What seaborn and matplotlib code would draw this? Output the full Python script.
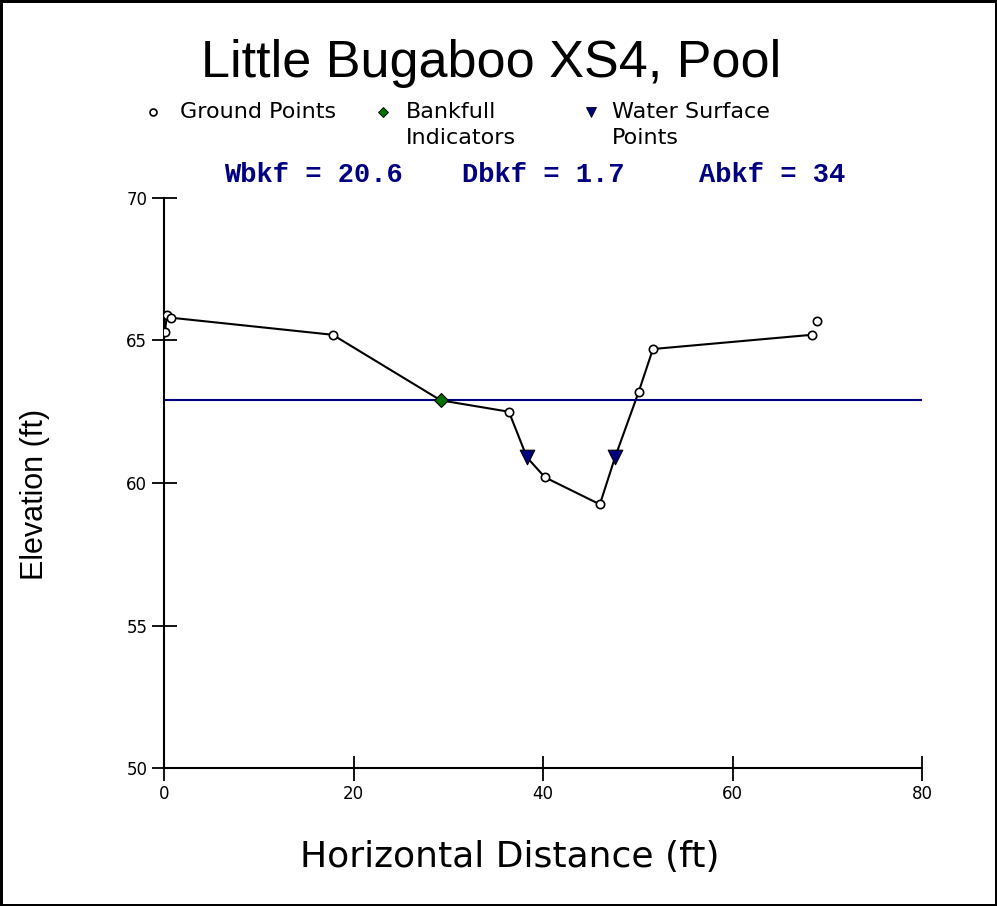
import matplotlib
matplotlib.use("Agg")
import matplotlib.pyplot as plt
from matplotlib.lines import Line2D
import seaborn as sns
import pandas as pd

# cross-section survey
ground_x = [0.1, 0.3, 0.7, 17.8, 36.4, 40.2, 46.0, 50.1, 51.6, 68.4, 68.9]
ground_y = [65.3, 65.9, 65.8, 65.2, 62.5, 60.2, 59.25, 63.2, 64.7, 65.2, 65.7]
bankfull_x = [29.2]
bankfull_y = [62.9]
ws_x = [38.3, 47.6]
ws_y = [60.9, 60.9]
bankfull_elev = 62.9

# profile line order (last ground point is not joined)
profile_x = [0.1, 0.3, 0.7, 17.8, 29.2, 36.4, 38.3, 40.2, 46.0, 47.6, 50.1, 51.6, 68.4]
profile_y = [65.3, 65.9, 65.8, 65.2, 62.9, 62.5, 60.9, 60.2, 59.25, 60.9, 63.2, 64.7, 65.2]

legend_labels = ["Ground Points", "Bankfull\nIndicators", "Water Surface\nPoints"]
stats_text = ["Wbkf = 20.6", "Dbkf = 1.7", "Abkf = 34"]

NAVY = "#000080"
GREEN = "#007000"

sns.set_style("white")
plt.rcParams['font.family'] = ['Liberation Sans', 'DejaVu Sans']
plt.rcParams['text.color'] = 'black'

fig = plt.figure(figsize=(9.97, 9.06), dpi=100)
fig.patch.set_edgecolor("black")
fig.patch.set_linewidth(2.5)
ax = fig.add_axes([0.1645, 0.1523, 0.7603, 0.6292])

prof = pd.DataFrame({"x": profile_x, "y": profile_y})
sns.lineplot(data=prof, x="x", y="y", ax=ax, color="black", lw=1.5, sort=False,
             estimator=None)
ax.axhline(bankfull_elev, color=NAVY, lw=1.5)

sns.scatterplot(x=ground_x, y=ground_y, ax=ax, marker="o", s=36, facecolor="white",
                edgecolor="black", linewidth=1.2, zorder=3)
sns.scatterplot(x=bankfull_x, y=bankfull_y, ax=ax, marker="D", s=50, color=GREEN,
                edgecolor="black", linewidth=0.8, zorder=3)
sns.scatterplot(x=ws_x, y=ws_y, ax=ax, marker="v", s=110, color=NAVY,
                edgecolor="black", linewidth=0.8, zorder=3)

ax.set_xlim(0, 80)
ax.set_ylim(50, 70)
ax.set_xticks([0, 20, 40, 60, 80])
ax.set_yticks([50, 55, 60, 65, 70])
sns.despine(ax=ax)
for s in ["left", "bottom"]:
    ax.spines[s].set_linewidth(1.5)
    ax.spines[s].set_color("black")
ax.tick_params(direction="inout", length=18, width=1.3, labelsize=12, pad=3,
               color="black", labelcolor="black", bottom=True, left=True)
for lab in ax.get_xticklabels() + ax.get_yticklabels():
    lab.set_family("DejaVu Sans")

ax.set_xlabel("Horizontal Distance (ft)", fontsize=26, va="baseline", color="black",
              family="DejaVu Sans")
ax.xaxis.set_label_coords(0.4565, -0.1737)
ax.set_ylabel("Elevation (ft)", fontsize=22, va="center", color="black")
ax.yaxis.set_label_coords(-0.170, 0.4807)

fig.text(0.493, 0.915, "Little Bugaboo XS4, Pool", fontsize=37.5, ha="center",
         va="baseline")

# legend row drawn by hand so the two-line labels hang from the marker line
leg_marker_x = [0.1535, 0.3842, 0.5928]
leg_text_x = [0.1805, 0.4072, 0.6138]
leg_styles = [dict(marker="o", markersize=5, mfc="white", mec="black", mew=1.2),
              dict(marker="D", markersize=5.5, mfc=GREEN, mec="black", mew=0.6),
              dict(marker="v", markersize=7, mfc=NAVY, mec="black", mew=0.6)]
for mx, tx, st, lab in zip(leg_marker_x, leg_text_x, leg_styles, legend_labels):
    fig.add_artist(Line2D([mx], [0.8764], transform=fig.transFigure, ls="none", **st))
    fig.text(tx, 0.8875, lab, fontsize=16, ha="left", va="top", linespacing=1.4,
             family="DejaVu Sans")

stat_x = [0.314, 0.545, 0.774]
for xp, s in zip(stat_x, stats_text):
    fig.text(xp, 0.807, s, fontsize=19.5, ha="center", va="center", color=NAVY,
             family="Liberation Mono", fontweight="bold")

fig.savefig("out.png", dpi=100)
